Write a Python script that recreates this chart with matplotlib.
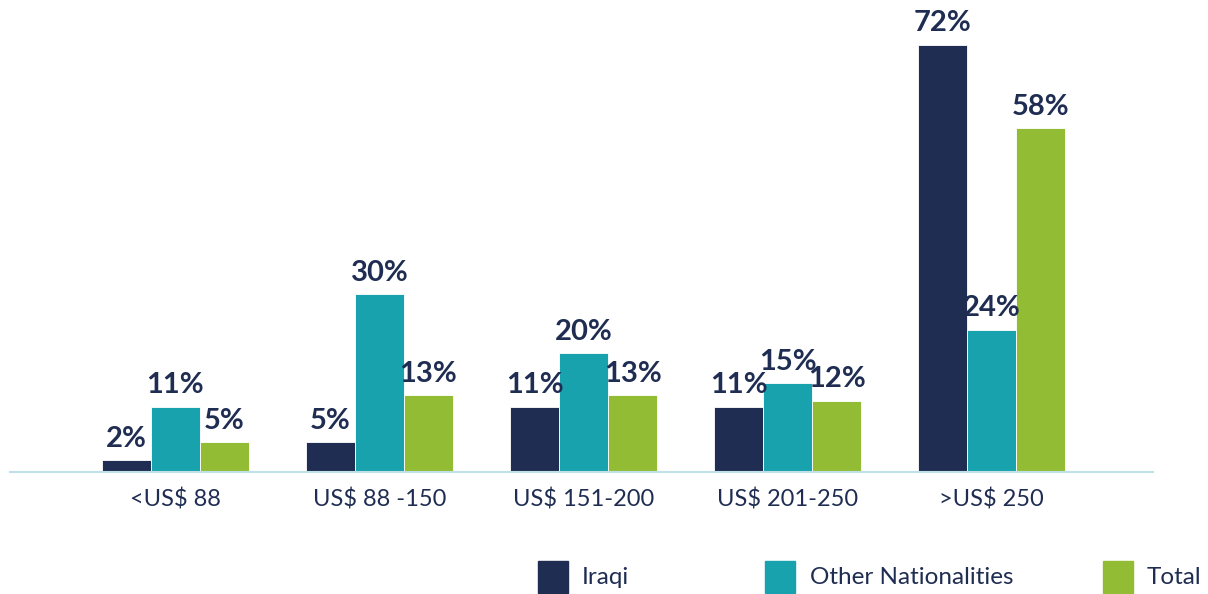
import matplotlib
matplotlib.use("Agg")
import matplotlib.pyplot as plt
from matplotlib.patches import Rectangle
import numpy as np

categories = ["<US$ 88", "US$ 88 -150", "US$ 151-200", "US$ 201-250", ">US$ 250"]
series_names = ["Iraqi", "Other Nationalities", "Total"]
iraqi = [2, 5, 11, 11, 72]
other = [11, 30, 20, 15, 24]
total = [5, 13, 13, 12, 58]
colors = ["#1f2d52", "#17a2ad", "#92bc33"]
text_color = "#1f2d52"

plt.rcParams['font.family'] = ['Lato', 'DejaVu Sans']

fig = plt.figure(figsize=(12.08, 5.94), dpi=100)
ax = fig.add_axes([10/1208, 122/594, (1153-10)/1208, 445/594])

x = np.arange(len(categories))
w = 0.24
for i, (vals, c) in enumerate(zip([iraqi, other, total], colors)):
    xs = x + (i - 1) * w
    ax.bar(xs, vals, width=w, color=c, edgecolor="white", linewidth=0.6, zorder=2)
    for xi, v in zip(xs, vals):
        ax.annotate(f"{v}%", (xi, v), xytext=(0, 6), textcoords="offset points",
                    ha="center", va="bottom", fontsize=21, fontweight="bold", color=text_color)

ax.set_xlim(-0.81, 4.79)
ax.set_ylim(0, 75)
ax.set_xticks(x)
ax.set_xticklabels(categories, fontsize=17, color=text_color)
ax.tick_params(axis="x", length=0, pad=12)
ax.set_yticks([])
for s in ["top", "right", "left"]:
    ax.spines[s].set_visible(False)
ax.spines["bottom"].set_color("#bfe0e6")
ax.spines["bottom"].set_linewidth(1.5)

# legend
leg_sq_x = [538, 765, 1103]
leg_txt_x = [582, 810, 1147]
for sx, tx, c, name in zip(leg_sq_x, leg_txt_x, colors, series_names):
    fig.patches.append(Rectangle((sx/1208, (594-593)/594), 30/1208, 32/594,
                                 transform=fig.transFigure, color=c))
    fig.text(tx/1208, (594-578)/594, name, fontsize=17.5, color=text_color,
             ha="left", va="center")

fig.savefig("out.png", dpi=100)
